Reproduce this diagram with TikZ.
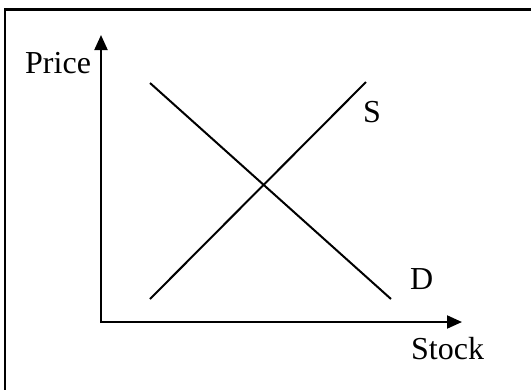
\documentclass[tikz,border=0pt]{standalone}
\usepackage{fontspec}
\setmainfont{Liberation Serif}
\usetikzlibrary{arrows.meta}
\begin{document}
\begin{tikzpicture}[x=1pt,y=1pt,
  lbl/.style={anchor=base west,inner sep=0pt,font=\fontsize{32}{37}\selectfont},
  axis/.style={line width=2pt,-{Triangle[length=15pt,width=13pt]}},
  curve/.style={line width=2pt},
  frame/.style={line width=2.5pt}]
\useasboundingbox (0,0) rectangle (531,-389);
\draw[frame] (5,-395) -- (5,-9.5) -- (540,-9.5);
\coordinate (o) at (101,-322);
\coordinate (ytip) at (101,-35);
\coordinate (xtip) at (462,-322);
\draw[axis] (101,-323) -- (ytip);
\draw[axis] (100,-322) -- (xtip);
\coordinate (s1) at (150,-299);
\coordinate (s2) at (366,-82);
\coordinate (d1) at (150,-83);
\coordinate (d2) at (391,-299);
\draw[curve] (s1) -- (s2);
\draw[curve] (d1) -- (d2);
\node[lbl] (price) at (25,-73) {Price};
\node[lbl] (stock) at (411,-359) {Stock};
\node[lbl] (S) at (363,-122) {S};
\node[lbl] (D) at (410,-289) {D};
\end{tikzpicture}
\end{document}
